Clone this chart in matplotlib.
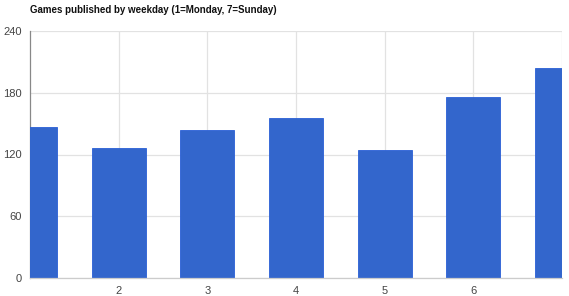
import matplotlib
matplotlib.use('Agg')
import matplotlib.pyplot as plt

# data
weekdays = [1, 2, 3, 4, 5, 6, 7]
games = [147, 126, 144, 155, 124, 176, 204]
xticks = [2, 3, 4, 5, 6]
yticks = [0, 60, 120, 180, 240]

plt.rcParams['font.family'] = ['Liberation Sans', 'DejaVu Sans']

W, H = 569, 296
fig = plt.figure(figsize=(W / 100, H / 100), dpi=100)
ax = fig.add_axes([30 / W, (H - 278) / H, (562 - 30) / W, (278 - 31) / H])

ax.bar(weekdays, games, width=0.61, color='#3366cc', edgecolor='#2a5fd6',
       linewidth=0.6, zorder=3)

ax.set_xlim(1, 7)
ax.set_ylim(0, 240)
ax.set_xticks(xticks)
ax.set_yticks(yticks)
ax.set_xticks([7], minor=True)
ax.grid(True, which='both', color='#e2e2e2', linewidth=0.9, zorder=0)

for s in ['top', 'right']:
    ax.spines[s].set_visible(False)
ax.spines['left'].set_color('#888888')
ax.spines['left'].set_linewidth(0.9)
ax.spines['bottom'].set_color('#cccccc')
ax.spines['bottom'].set_linewidth(0.9)
ax.spines['bottom'].set_zorder(4)

ax.tick_params(axis='both', which='both', length=0, labelsize=8, labelcolor='#444444')
ax.tick_params(axis='y', pad=6)
ax.tick_params(axis='x', pad=6)

fig.text(30 / W, 1 - 10 / H, 'Games published by weekday (1=Monday, 7=Sunday)',
         fontsize=7, fontweight='bold', color='#111111', ha='left', va='center')

fig.savefig('out.png', dpi=100)
